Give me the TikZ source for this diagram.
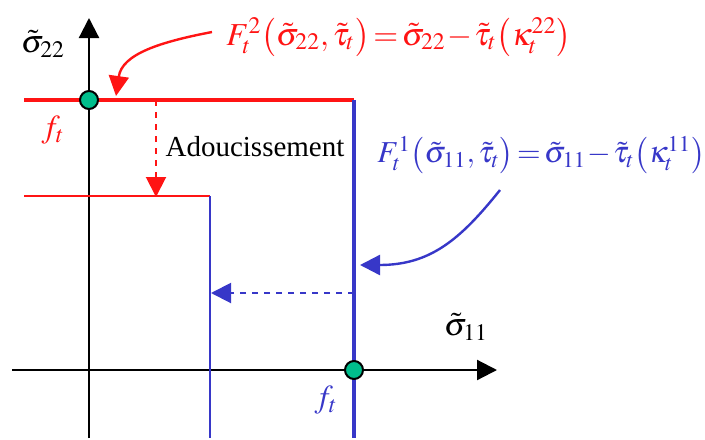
\documentclass[tikz,border=0pt]{standalone}
\usepackage{mathptmx}
\usepackage{fontspec}
\setmainfont{Liberation Serif}
\usetikzlibrary{arrows.meta}
\definecolor{rouge}{RGB}{255,20,20}
\definecolor{bleu}{RGB}{55,55,200}
\definecolor{vert}{RGB}{0,190,140}
\begin{document}
\begin{tikzpicture}[x=0.5pt,y=-0.5pt,line join=round,
	tip/.style={-{Triangle[length=10pt,width=10pt]}},
	axe/.style={line width=1.1pt,tip},
	pt/.style={circle,draw=black,line width=1pt,fill=vert,minimum size=9pt,inner sep=0pt},
	gros/.style={font=\fontsize{16}{18}\selectfont},
	critere/.style={anchor=west,inner sep=0pt,execute at begin node={\medmuskip=1mu\thickmuskip=2mu}}]
	\tikzset{every node/.style={font=\fontsize{14.5}{17}\selectfont}}
	\useasboundingbox (0,0) rectangle (705,439);
	% axes
	\coordinate (xg) at (12,370);
	\coordinate (xd) at (497,370);
	\coordinate (yb) at (89,438);
	\coordinate (yh) at (89,18);
	\draw[axe] (xg)--(xd);
	\draw[axe] (yb)--(yh);
	\node[gros] (s22) at (43,44) {$\tilde{\sigma}_{22}$};
	\node[gros] (s11) at (466,327) {$\tilde{\sigma}_{11}$};
	% surface initiale
	\coordinate (r1g) at (24,100);
	\coordinate (coin) at (354,100);
	\coordinate (b1b) at (354,438);
	\draw[rouge,line width=2.2pt] (r1g)--(coin);
	\draw[bleu,line width=2.2pt] (coin)--(b1b);
	% surface adoucie
	\coordinate (r2g) at (24,196);
	\coordinate (coin2) at (210,196);
	\coordinate (b2b) at (210,438);
	\draw[rouge,line width=1pt] (r2g)--(coin2);
	\draw[bleu,line width=1pt] (coin2)--(b2b);
	% seuils
	\node[pt] (ft2) at (89,100) {};
	\node[pt] (ft1) at (354,370) {};
	\node[rouge,gros] (lft2) at (53,130) {$f_t$};
	\node[bleu,gros] (lft1) at (326,400) {$f_t$};
	% adoucissement
	\coordinate (dr1) at (156,100);
	\coordinate (dr2) at (156,197);
	\draw[rouge,line width=1pt,dashed,tip] (dr1)--(dr2);
	\node (adou) at (255,147) {Adoucissement};
	\coordinate (db1) at (354,293);
	\coordinate (db2) at (211,293);
	\draw[bleu,line width=1pt,dashed,tip] (db1)--(db2);
	% criteres
	\node[rouge,critere,gros] (F2) at (226,37)
		{$F_t^2\bigl(\tilde{\sigma}_{22},\tilde{\tau}_t\bigr)=\tilde{\sigma}_{22}-\tilde{\tau}_t\bigl(\kappa_t^{22}\bigr)$};
	\node[bleu,critere,font=\fontsize{15.2}{17}\selectfont] (F1) at (377,155)
		{$F_t^1\bigl(\tilde{\sigma}_{11},\tilde{\tau}_t\bigr)=\tilde{\sigma}_{11}-\tilde{\tau}_t\bigl(\kappa_t^{11}\bigr)$};
	\coordinate (f2a) at (212,32);
	\coordinate (f2b) at (116,96);
	\draw[rouge,line width=1.2pt,tip] (f2a) .. controls (160,42) and (122,54) .. (f2b);
	\coordinate (f1a) at (500,190);
	\coordinate (f1b) at (360,265);
	\draw[bleu,line width=1.2pt,tip] (f1a) .. controls (460,240) and (430,265) .. (f1b);
\end{tikzpicture}
\end{document}
